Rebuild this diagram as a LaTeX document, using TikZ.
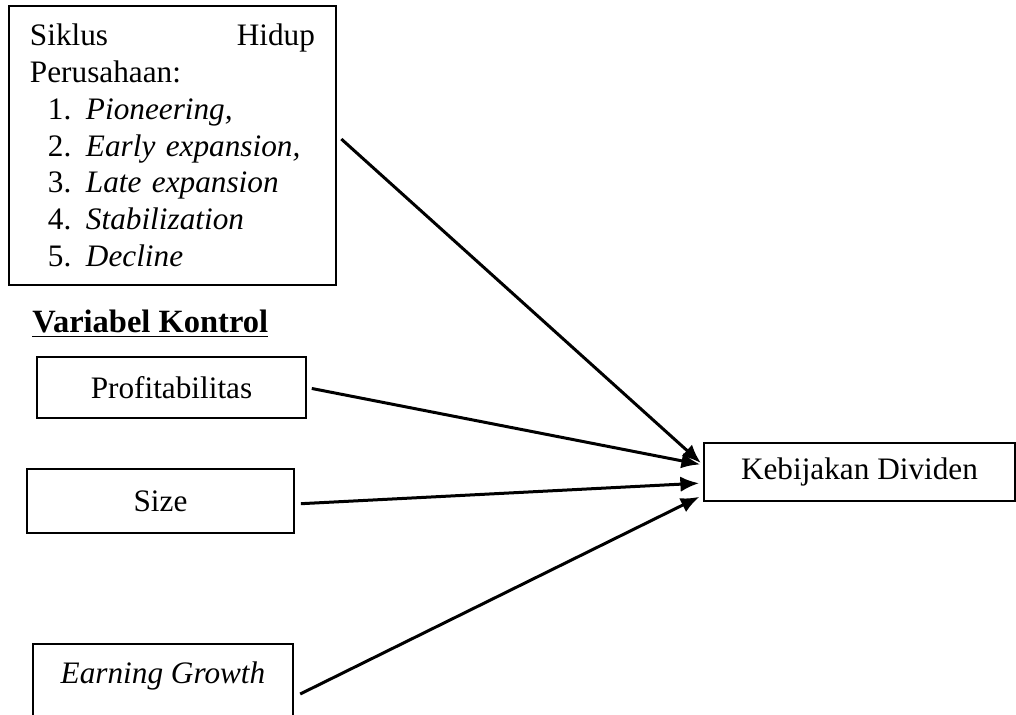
\documentclass[tikz,border=0pt]{standalone}
\usepackage{fontspec}
\setmainfont{Liberation Serif}
\usetikzlibrary{arrows.meta}
\tikzset{
	block/.style = {draw, line width=0.7pt, rectangle, inner sep=0pt},
	var/.style   = {block, minimum width=107pt, minimum height=25pt},
	link/.style  = {->, line width=1.2pt}
}
\newcommand{\nomor}[1]{\hspace*{7.2pt}\makebox[15.2pt][l]{#1}}

\begin{document}
\begin{tikzpicture}[x=0.4pt, y=-0.4pt, >={Latex[length=7.5pt,width=6.2pt]},
	font=\fontsize{12.5}{14.7}\selectfont]
\clip (0,0) rectangle (1016,715);
\draw
node at (172.5,145.5) [block, text width=114pt, inner xsep=8.4pt, inner ysep=7.2pt, align=left] (siklus)
	{Siklus\hfill Hidup\\ Perusahaan:\\
	\nomor{1.}\textit{Pioneering,}\\
	\nomor{2.}\textit{Early expansion,}\\
	\nomor{3.}\textit{Late expansion}\\
	\nomor{4.}\textit{Stabilization}\\
	\nomor{5.}\textit{Decline}}
node at (32,332) [anchor=base west, inner sep=0pt, font=\fontsize{13}{15}\selectfont\bfseries] (kontrol) {\underline{Variabel Kontrol}}
node at (171.5,387.5) [var, minimum width=107.6pt, minimum height=24.4pt] (profit) {Profitabilitas}
node at (160.5,501) [var, minimum width=106.8pt, minimum height=25.6pt] (size) {Size}
node at (163,643) [block, anchor=north, minimum width=104pt, inner ysep=1pt, text height=15pt, text depth=20pt] (growth) {\textit{Earning Growth}}
node at (859.5,472) [var, minimum width=124.4pt, minimum height=23.2pt] (kebijakan) {Kebijakan Dividen};

\draw[link, shorten <=2.4pt, shorten >=1.2pt] ([yshift=4.2pt]siklus.east) -- ([yshift=2.8pt]kebijakan.west);
\draw[link, shorten <=2pt, shorten >=1.2pt] (profit.east) -- ([yshift=2.8pt]kebijakan.west);
\draw[link, shorten <=2.4pt, shorten >=1.6pt] ([yshift=-1.2pt]size.east) -- ([yshift=-4.4pt]kebijakan.west);
\draw[link, shorten <=2.8pt, shorten >=1.6pt] ([yshift=-2.8pt]growth.east) -- ([yshift=-9.2pt]kebijakan.west);
\end{tikzpicture}
\end{document}
